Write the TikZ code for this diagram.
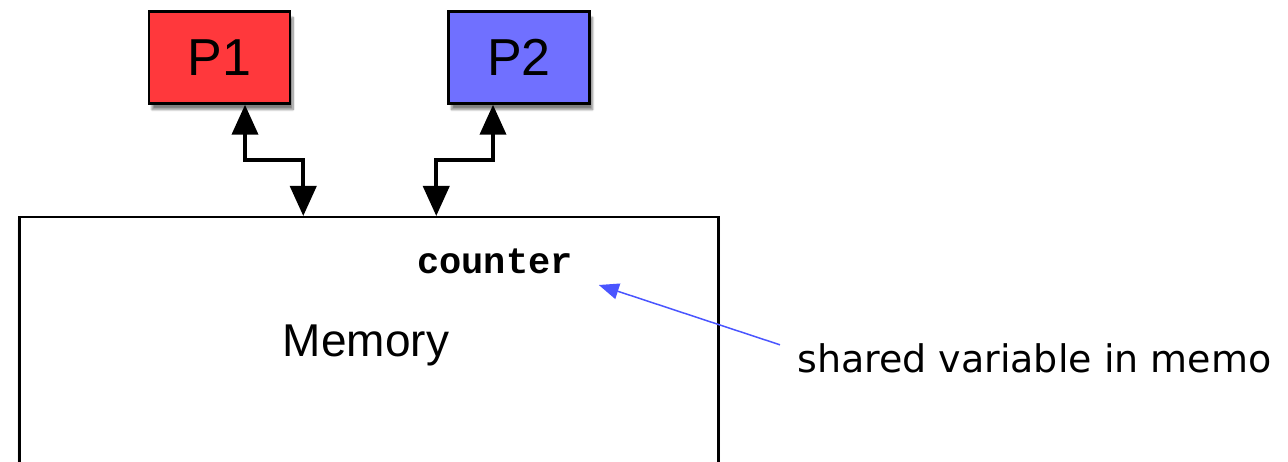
\documentclass[tikz,border=0pt]{standalone}
\usepackage{fontspec}
\setmainfont{Liberation Sans}
\newfontfamily\notefont{DejaVu Sans}
\newfontfamily\codefont{Liberation Mono}
\usetikzlibrary{arrows.meta, positioning, shadows.blur}

\definecolor{procred}{HTML}{FF383C}
\definecolor{procblue}{HTML}{7070FF}
\definecolor{noteblue}{HTML}{4A55FF}

\begin{document}
\begin{tikzpicture}[
        x=1pt, y=-1pt,
        proc/.style={
            draw=black,
            line width=2.5pt,
            minimum width=141pt,
            minimum height=92pt,
            inner sep=0pt,
            font=\fontsize{52}{60}\selectfont,
            blur shadow={shadow xshift=3pt, shadow yshift=-6pt, shadow blur steps=10, shadow opacity=50}
        },
        link/.style={
            line width=4pt,
            {Triangle[length=30pt,width=26pt]}-{Triangle[length=30pt,width=26pt]}
        }
    ]
        \useasboundingbox (0, 0) rectangle (1288, 462);
        \clip (0, 0) rectangle (1288, 462);

        % memory box, its bottom runs off the picture
        \node[
            draw=black,
            line width=2.5pt,
            fill=white,
            minimum width=699pt,
            minimum height=320pt,
            inner sep=0pt,
            anchor=north west,
            blur shadow={shadow xshift=0pt, shadow yshift=-3pt, shadow blur steps=10, shadow opacity=50}
        ] (mem) at (18, 216) {};

        \node[proc, fill=procred] (P1) at (219.5, 57.5) {P1};
        \node[proc, fill=procblue] (P2) at (519, 57.5) {P2};

        \node[font=\fontsize{46}{55}\selectfont] (memlabel) at (366, 345) {Memory};
        \node[
            font=\codefont\bfseries\fontsize{37}{40}\selectfont,
            inner sep=0pt,
            anchor=base west
        ] (counter) at (417, 274) {counter};

        \node[
            font=\notefont\fontsize{38}{44}\selectfont,
            inner sep=0pt,
            anchor=base west
        ] (note) at (797, 372) {shared variable in memo};

        % processors to memory
        \draw[link] ([xshift=25.5pt]P1.south) -- ++(0, 55) -| ([xshift=-65.5pt]mem.north);
        \draw[link] ([xshift=-26pt]P2.south) -- ++(0, 55) -| ([xshift=67.5pt]mem.north);

        \draw[
            noteblue,
            line width=1.5pt,
            -{Triangle[length=20pt,width=16pt]}
        ] ([xshift=-17pt, yshift=13pt]note.west) -- ([xshift=26pt, yshift=-11pt]counter.base east);
    \end{tikzpicture}
\end{document}
